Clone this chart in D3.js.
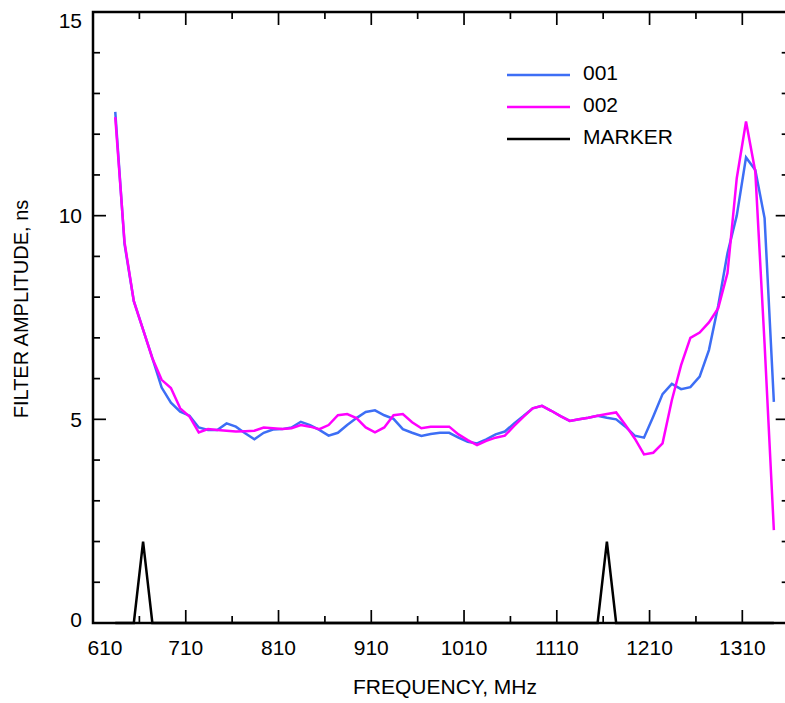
<!DOCTYPE html>
<html>
<head>
<meta charset="utf-8">
<script src="https://cdn.jsdelivr.net/npm/d3@7"></script>
<style>
  body { margin: 0; background: #fff; }
  svg text { font-family: "Liberation Sans", Arial, Helvetica, sans-serif; fill: #000; }
</style>
</head>
<body>
<div id="chart"></div>
<script>
// frequency of each sample, MHz
var freqs = [634, 644, 654, 664, 674, 684, 694, 704, 714, 724,
    734, 744, 754, 764, 774, 784, 794, 804, 814, 824,
    834, 844, 854, 864, 874, 884, 894, 904, 914, 924,
    934, 944, 954, 964, 974, 984, 994, 1004, 1014, 1024,
    1034, 1044, 1054, 1064, 1074, 1084, 1094, 1104, 1114, 1124,
    1134, 1144, 1154, 1164, 1174, 1184, 1194, 1204, 1214, 1224,
    1234, 1244, 1254, 1264, 1274, 1284, 1294, 1304, 1314, 1324,
    1334, 1344];

var series001 = [12.55, 9.3, 7.9, 7.2, 6.5, 5.78, 5.41, 5.19, 5.09, 4.80,
    4.74, 4.74, 4.90, 4.82, 4.66, 4.51, 4.67, 4.75, 4.76, 4.80,
    4.94, 4.86, 4.74, 4.60, 4.67, 4.86, 5.03, 5.18, 5.22, 5.10,
    5.01, 4.76, 4.67, 4.59, 4.64, 4.67, 4.67, 4.55, 4.45, 4.41,
    4.51, 4.63, 4.70, 4.90, 5.08, 5.27, 5.33, 5.21, 5.08, 4.96,
    5.00, 5.04, 5.09, 5.04, 5.00, 4.82, 4.60, 4.55, 5.07, 5.62,
    5.87, 5.74, 5.79, 6.05, 6.70, 7.79, 9.08, 10.0, 11.43, 11.12,
    9.94, 5.43];

var series002 = [12.42, 9.35, 7.9, 7.2, 6.5, 5.97, 5.77, 5.27, 5.07, 4.68,
    4.76, 4.74, 4.72, 4.70, 4.71, 4.72, 4.80, 4.78, 4.76, 4.78,
    4.86, 4.82, 4.76, 4.86, 5.10, 5.13, 5.03, 4.80, 4.68, 4.80,
    5.10, 5.13, 4.93, 4.78, 4.82, 4.82, 4.82, 4.63, 4.49, 4.37,
    4.47, 4.55, 4.60, 4.84, 5.06, 5.27, 5.33, 5.21, 5.08, 4.96,
    5.00, 5.04, 5.09, 5.13, 5.17, 4.86, 4.53, 4.14, 4.18, 4.41,
    5.47, 6.33, 7.00, 7.13, 7.38, 7.73, 8.59, 10.92, 12.31, 11.08,
    6.85, 2.28];

var marker = [0, 0, 0, 2, 0, 0, 0, 0, 0, 0,
    0, 0, 0, 0, 0, 0, 0, 0, 0, 0,
    0, 0, 0, 0, 0, 0, 0, 0, 0, 0,
    0, 0, 0, 0, 0, 0, 0, 0, 0, 0,
    0, 0, 0, 0, 0, 0, 0, 0, 0, 0,
    0, 0, 0, 2, 0, 0, 0, 0, 0, 0,
    0, 0, 0, 0, 0, 0, 0, 0, 0, 0,
    0, 0];

var seriesNames = ["001", "002", "MARKER"];
var seriesColors = ["#3d6ef5", "#ff00ff", "#000000"];
var xTickValues = [610, 710, 810, 910, 1010, 1110, 1210, 1310];
var yTickValues = [0, 5, 10, 15];

var width = 785, height = 703;
var plotL = 93, plotT = 12, plotR = 788.7, plotB = 623;

var svg = d3.select("#chart").append("svg")
    .attr("width", width)
    .attr("height", height);

var x = d3.scaleLinear().domain([610, 1360]).range([plotL, plotR]);
var y = d3.scaleLinear().domain([0, 15]).range([plotB, plotT]);

var minorX = d3.range(610, 1360, 50);
var minorY = d3.range(0, 16, 1);

// curves
var allSeries = [series001, series002, marker];
var line = d3.line()
    .x(function (d, i) { return x(freqs[i]); })
    .y(function (d) { return y(d); });

// marker first, then 001, then 002 on top
[2, 0, 1].forEach(function (s) {
    svg.append("path")
        .datum(allSeries[s])
        .attr("d", line)
        .attr("fill", "none")
        .attr("stroke", seriesColors[s])
        .attr("stroke-width", 2.5)
        .attr("stroke-linejoin", "miter");
});

// frame
svg.append("rect")
    .attr("x", plotL).attr("y", plotT)
    .attr("width", plotR - plotL).attr("height", plotB - plotT)
    .attr("fill", "none")
    .attr("stroke", "#000")
    .attr("stroke-width", 2.5);

// ticks, all pointing inward
var ticks = svg.append("g").attr("stroke", "#000").attr("stroke-width", 1.7);
minorX.forEach(function (v) {
    var len = (v - 610) % 100 === 0 ? 13 : 7;
    ticks.append("line").attr("x1", x(v)).attr("x2", x(v)).attr("y1", plotB).attr("y2", plotB - len);
    ticks.append("line").attr("x1", x(v)).attr("x2", x(v)).attr("y1", plotT).attr("y2", plotT + len);
});
minorY.forEach(function (v) {
    var len = v % 5 === 0 ? 13 : 7;
    ticks.append("line").attr("x1", plotL).attr("x2", plotL + len).attr("y1", y(v)).attr("y2", y(v));
    ticks.append("line").attr("x1", plotR).attr("x2", plotR - len).attr("y1", y(v)).attr("y2", y(v));
});

// tick labels
svg.selectAll(".xlab")
    .data(xTickValues)
    .enter()
    .append("text")
    .attr("class", "xlab")
    .attr("x", function (d, i) { return x(d) + (i === 0 ? 12 : 0); })
    .attr("y", 655)
    .attr("text-anchor", "middle")
    .style("font-size", "21px")
    .text(function (d) { return d; });

svg.selectAll(".ylab")
    .data(yTickValues)
    .enter()
    .append("text")
    .attr("class", "ylab")
    .attr("x", 82)
    .attr("y", function (d) {
        if (d === 15) return y(d) + 16;
        if (d === 0) return y(d) + 4;
        return y(d) + 7.5;
    })
    .attr("text-anchor", "end")
    .style("font-size", "21px")
    .text(function (d) { return d; });

// axis titles
svg.append("text")
    .attr("x", 445)
    .attr("y", 694)
    .attr("text-anchor", "middle")
    .style("font-size", "21px")
    .text("FREQUENCY, MHz");

svg.append("text")
    .attr("transform", "translate(28,309) rotate(-90)")
    .attr("text-anchor", "middle")
    .style("font-size", "20px")
    .text("FILTER AMPLITUDE, ns");

// legend
var legend = svg.append("g").attr("transform", "translate(507,75)");
seriesNames.forEach(function (name, i) {
    legend.append("line")
        .attr("x1", 0).attr("x2", 63)
        .attr("y1", i * 32).attr("y2", i * 32)
        .attr("stroke", seriesColors[i])
        .attr("stroke-width", 2.5);
    legend.append("text")
        .attr("x", 76)
        .attr("y", i * 32 + 5)
        .style("font-size", "21px")
        .text(name);
});
</script>
</body>
</html>
